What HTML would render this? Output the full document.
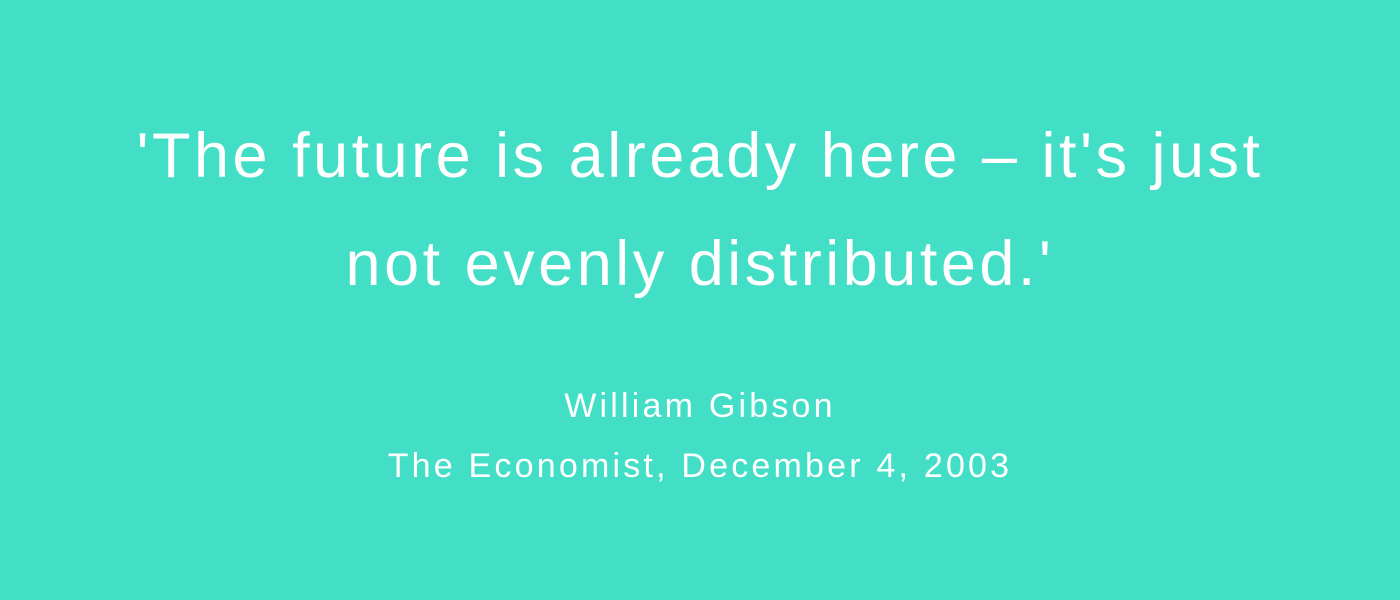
<!DOCTYPE html>
<html><head><meta charset="utf-8"><style>
html,body{margin:0;padding:0}
body{width:1400px;height:600px;background:#43dec6;overflow:hidden;position:relative;font-family:"Liberation Sans","DejaVu Sans",sans-serif;color:#fff}
.q{position:absolute;left:0;width:1400px;text-align:center;font-size:63px;line-height:108px;top:102px;letter-spacing:3.5px}
.a{position:absolute;left:0;width:1400px;text-align:center;font-size:34px;line-height:60px;letter-spacing:3.2px}
</style></head><body>
<div class="q">'The future is already here – it's just<br>not evenly distributed.'</div>
<div class="a" style="top:376px">William Gibson</div>
<div class="a" style="top:436px">The Economist, December 4, 2003</div>
</body></html>
